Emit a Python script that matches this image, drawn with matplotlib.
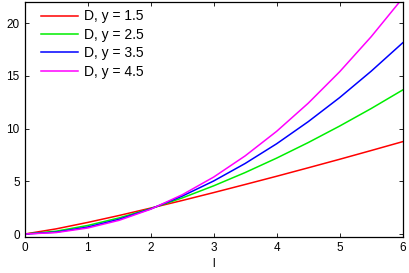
import matplotlib
matplotlib.use("Agg")
import matplotlib.pyplot as plt

# values
l_vals = [0, 0.5, 1, 1.5, 2, 2.5, 3, 3.5, 4, 4.5, 5, 5.5, 6]
d_y15 = [0, 0.49, 1.10, 1.76, 2.46, 3.18, 3.93, 4.70, 5.48, 6.28, 7.09, 7.92, 8.76]
d_y25 = [0, 0.27, 0.81, 1.53, 2.41, 3.42, 4.57, 5.83, 7.20, 8.67, 10.24, 11.90, 13.66]
d_y35 = [0, 0.18, 0.66, 1.40, 2.38, 3.59, 5.03, 6.69, 8.56, 10.65, 12.94, 15.44, 18.13]
d_y45 = [0, 0.14, 0.57, 1.30, 2.35, 3.72, 5.40, 7.41, 9.74, 12.40, 15.39, 18.71, 22.37]

labels = ["D, y = 1.5", "D, y = 2.5", "D, y = 3.5", "D, y = 4.5"]
colors = ["#ff0000", "#00ee00", "#0000ff", "#ff00ff"]

plt.rcParams["font.family"] = ["Liberation Sans", "DejaVu Sans"]

fig = plt.figure(figsize=(4.09, 2.73), dpi=100)
ax = fig.add_axes([0.06, 0.133, 0.9246, 0.8597])

for d, lab, c in zip([d_y15, d_y25, d_y35, d_y45], labels, colors):
    ax.plot(l_vals, d, color=c, lw=1.1, label=lab)

ax.set_xlim(0, 6)
ax.set_ylim(-0.25, 22)
ax.set_xticks(range(0, 7))
ax.set_yticks([0, 5, 10, 15, 20])
ax.tick_params(direction="in", top=True, right=True, labelsize=8.5, length=3, width=0.6)
for s in ax.spines.values():
    s.set_linewidth(0.9)
ax.set_xlabel("l", fontsize=8.5, labelpad=3)

ax.legend(loc="upper left", bbox_to_anchor=(0.029, 0.992), frameon=False, fontsize=10,
          handlelength=2.66, labelspacing=0.32, handletextpad=0.43,
          borderpad=0.4, borderaxespad=0)

fig.savefig("out.png", dpi=100)
plt.close(fig)
